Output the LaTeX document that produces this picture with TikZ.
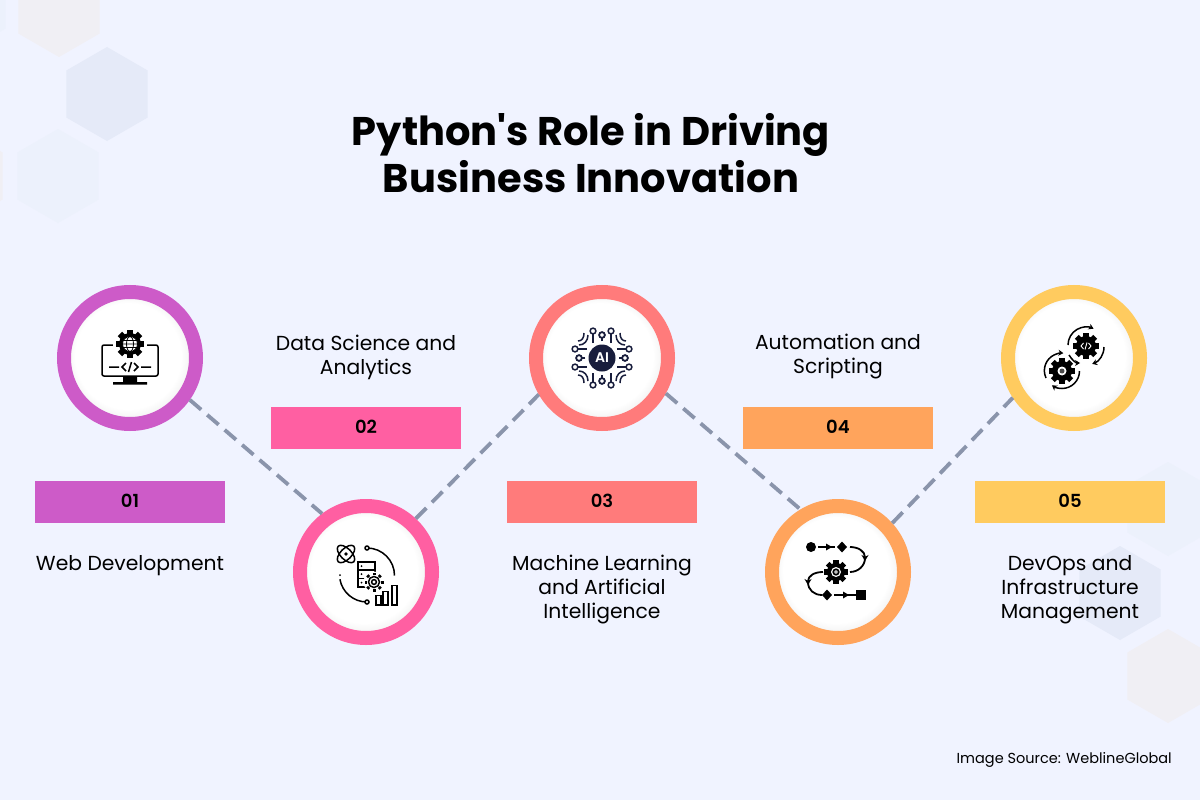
\documentclass[tikz,border=0pt]{standalone}
\usepackage{fontspec}
\setmainfont{Poppins}
\newfontfamily\semibold{Poppins SemiBold}
\newfontfamily\headfont{Poppins Bold}
\usetikzlibrary{shapes.geometric, arrows.meta, positioning}
\definecolor{pagebg}{RGB}{240,243,255}
\definecolor{hexblue}{RGB}{229,234,248}
\definecolor{hexpale}{RGB}{236,241,252}
\definecolor{hexwarm}{RGB}{240,239,244}
\definecolor{linkgray}{RGB}{138,148,171}
\definecolor{webpurple}{RGB}{205,91,200}
\definecolor{datapink}{RGB}{255,95,162}
\definecolor{mlcoral}{RGB}{255,123,123}
\definecolor{autoorange}{RGB}{255,164,92}
\definecolor{opsyellow}{RGB}{255,203,95}
\definecolor{ainavy}{RGB}{24,29,60}
\pgfdeclareradialshading{ballwhite}{\pgfpoint{-2.2bp}{2.2bp}}{rgb(0bp)=(1,1,1); rgb(20bp)=(1,1,1); rgb(23bp)=(.96,.96,.96); rgb(25.5bp)=(.74,.74,.74); rgb(30bp)=(.6,.6,.6)}
% gear: x, y, radius
\newcommand{\gearat}[3]{
  \fill (#1,#2) circle (#3);
  \foreach \a in {0,45,...,315}
    \fill[shift={(#1,#2)}, rotate=\a] (-0.28*#3,0) rectangle (0.28*#3,1.3*#3);
}
\newcommand{\webicon}{
  \draw[iconline, rounded corners=2pt] (-28,-13) rectangle (28,18);
  \fill[white] (0,-14) circle (17);
  \gearat{0}{-14}{11}
  \draw[fill=white, line width=.8pt] (0,-14) circle (7.5);
  \draw[line width=.8pt] (-7.5,-14) -- (7.5,-14) (-6.5,-17.5) -- (6.5,-17.5) (-6.5,-10.5) -- (6.5,-10.5) (0,-14) ellipse (3.5 and 7.5);
  \draw[iconline] (-21,9) -- (-11,9) (11,9) -- (21,9) (-4,5) -- (-8,9) -- (-4,13) (4,5) -- (8,9) -- (4,13) (-1.5,14) -- (1.5,4);
  \fill (-7,18) rectangle (7,24) (-17,24) rectangle (17,26.5);
}
\newcommand{\dataicon}{
  \draw[iconline] (-20,-18) ellipse [x radius=11pt, y radius=5.5pt, rotate=45];
  \draw[iconline] (-20,-18) ellipse [x radius=11pt, y radius=5.5pt, rotate=-45];
  \fill (-20,-18) circle (1.8);
  \draw[iconline] (1,-24) arc[start angle=90, end angle=0, radius=27.5pt];
  \draw[iconline] (1,30) arc[start angle=270, end angle=190, radius=27.5pt];
  \draw[iconline, fill=white] (1,-24) circle (2) (1,30) circle (2);
  \fill (-26,3) circle (1);
  \draw[iconline, fill=white] (-8,-10) rectangle (9,15);
  \draw[iconline] (-8,-2) -- (9,-2) (-8,6.5) -- (9,6.5);
  \fill (-4.5,-6) circle (1) (-4.5,2) circle (1) (-4.5,10.5) circle (1);
  \fill[white] (8,10) circle (10.5);
  \foreach \a in {0,45,...,315}
    \draw[line width=3pt, shift={(8,10)}, rotate=\a] (0,7) -- (0,9.5);
  \fill[white] (8,10) circle (6);
  \draw[iconline] (8,10) circle (5.5) (8,10) circle (2.4);
  \draw[iconline] (10,23.5) rectangle (15,33) (17,19.5) rectangle (22,33) (26,13.5) rectangle (31,33);
}
\newcommand{\aiicon}{
  \fill[ainavy] (0,0) circle (13.5);
  \node[font=\semibold\fontsize{14}{14}\selectfont, white] (ailabel) at (0,0) {AI};
  \foreach \sx/\sy in {1/1,-1/1,1/-1,-1/-1} {
    \begin{scope}[xscale=\sx, yscale=\sy, ainavy, line width=1.5pt]
      \draw (-9,-15) -- (-9,-24.5) (-15,-9) -- (-24.5,-9) (0,-17) -- (0,-20.5) (-17,0) -- (-20.5,0);
      \draw (-9,-27) circle (2.9) (-27,-9) circle (2.9) (0,-23) circle (2.9) (-23,0) circle (2.9);
      \draw (-23,-13) .. controls (-18,-13) and (-14,-17) .. (-14,-23);
      \draw (-24,-17) .. controls (-20,-17) and (-18,-20) .. (-18,-25);
    \end{scope}
  }
}
\newcommand{\autoicon}{
  \fill (-27,-25) circle (5);
  \fill (4,-30.5) -- (9,-25) -- (4,-19.5) -- (-1,-25) -- cycle;
  \draw[iconthick] (-20,-25) -- (-3,-25);
  \fill (-12,-28.5) -- (-6,-25) -- (-12,-21.5) -- cycle;
  \draw[iconthick, -{Stealth[length=6pt,width=7pt]}] (12,-25) .. controls (20,-25) and (27,-21) .. (27,-11);
  \draw[iconthick] (27,-14) .. controls (27,-6) and (20,0) .. (12,0);
  \gearat{-2}{0}{9}
  \fill[white] (-2,0) circle (5);
  \draw[line width=1.6pt, fill=gray!50] (-2,0) circle (2.8);
  \draw[iconthick, -{Stealth[length=6pt,width=7pt]}] (-15,0) .. controls (-24,0) and (-30,4) .. (-30,13);
  \draw[iconthick] (-30,10) .. controls (-30,18) and (-24,23) .. (-16,23);
  \fill (-11,17.5) -- (-6,23) -- (-11,28.5) -- (-16,23) -- cycle;
  \draw[iconthick] (-4,23) -- (18,23);
  \fill (5,19.5) -- (11,23) -- (5,26.5) -- cycle;
  \fill (18,18) rectangle (28,28);
}
\newcommand{\opsicon}{
  \gearat{12}{-12}{10}
  \draw[white, line width=.9pt] (9.5,-15) -- (7,-12) -- (9.5,-9) (14.5,-15) -- (17,-12) -- (14.5,-9) (11,-8.5) -- (13,-15.5);
  \draw[iconline, -{Stealth[length=5pt,width=6pt]}] (-6,-13) arc[start angle=180, end angle=65, radius=18pt];
  \draw[iconline, -{Stealth[length=5pt,width=6pt]}] (30,-11) arc[start angle=0, end angle=-70, radius=18pt];
  \draw[iconline, -{Stealth[length=5pt,width=6pt]}] (-5,-3) .. controls (-2,2) and (2,5) .. (6,5);
  \gearat{-12}{13}{10}
  \fill[white] (-12,13) circle (4.5);
  \fill[gray!60!black] (-12,13) circle (2.5);
  \draw[iconline, -{Stealth[length=5pt,width=6pt]}] (-28,20) arc[start angle=205, end angle=85, radius=17.5pt];
  \draw[iconline, -{Stealth[length=5pt,width=6pt]}] (5.5,13) arc[start angle=0, end angle=-125, radius=17.5pt];
}
\begin{document}
\begin{tikzpicture}[
        x=1pt, y=-1pt,
        every node/.style={inner sep=0pt},
        hexcell/.style={regular polygon, regular polygon sides=6, shape border rotate=30, minimum size=94pt},
        ring/.style={circle, draw=#1, line width=14pt, minimum size=132pt, shading=ballwhite},
        bar/.style={rectangle, fill=#1, minimum width=190pt, minimum height=42.5pt, font=\semibold\fontsize{18}{18}\selectfont},
        caption/.style={align=center, font=\fontsize{20.3}{24}\selectfont},
        link/.style={draw=linkgray, line width=3.8pt, dash pattern=on 15pt off 8pt},
        iconline/.style={line width=1.5pt},
        iconthick/.style={line width=1.8pt}
    ]
        \path[use as bounding box, fill=pagebg] (0,0) rectangle (1200,800);

        % hexagons in the corners
        \node[hexcell, fill=hexpale] (hexa) at (-35,5) {};
        \node[hexcell, fill=hexwarm] (hexb) at (59,10) {};
        \node[hexcell, fill=hexblue] (hexc) at (107,94) {};
        \node[hexcell, fill=hexpale] (hexd) at (58,176) {};
        \node[hexcell, fill=hexwarm] (hexe) at (-38,176) {};
        \node[hexcell, fill=hexpale] (hexf) at (1168,509) {};
        \node[hexcell, fill=hexblue] (hexg) at (1120,593) {};
        \node[hexcell, fill=hexwarm] (hexh) at (1168,676) {};

        \node[font=\headfont\fontsize{40}{47}\selectfont, align=center] (heading) at (591,153) {Python's Role in Driving\\Business Innovation};

        \node[ring=webpurple] (webdev) at (130,358) {};
        \node[ring=datapink] (datasci) at (366,572) {};
        \node[ring=mlcoral] (mlai) at (602,358) {};
        \node[ring=autoorange] (autosc) at (838,572) {};
        \node[ring=opsyellow] (devops) at (1074,358) {};

        \draw[link] (webdev.-35) -- (datasci.127);
        \draw[link] (datasci.47) -- (mlai.210);
        \draw[link] (mlai.-29) -- (autosc.121);
        \draw[link] (autosc.42) -- (devops.213);

        \begin{scope}[shift={(webdev.center)}] \webicon \end{scope}
        \begin{scope}[shift={(datasci.center)}] \dataicon \end{scope}
        \begin{scope}[shift={(mlai.center)}] \aiicon \end{scope}
        \begin{scope}[shift={(autosc.center)}] \autoicon \end{scope}
        \begin{scope}[shift={(devops.center)}] \opsicon \end{scope}

        \node[bar=webpurple] (barone) at (130,502) {\raisebox{2pt}{01}};
        \node[bar=datapink] (bartwo) at (366,428) {\raisebox{2pt}{02}};
        \node[bar=mlcoral] (barthree) at (602,502) {\raisebox{2pt}{03}};
        \node[bar=autoorange] (barfour) at (838,428) {\raisebox{2pt}{04}};
        \node[bar=opsyellow] (barfive) at (1070,502) {\raisebox{2pt}{05}};

        \node[caption, below=32pt of barone] (capone) {Web Development};
        \node[caption, above=27pt of bartwo] (captwo) {Data Science and\\Analytics};
        \node[caption, below=31.5pt of barthree] (capthree) {Machine Learning\\and Artificial\\Intelligence};
        \node[caption, above=27pt of barfour] (capfour) {Automation and\\Scripting};
        \node[caption, below=31.5pt of barfive] (capfive) {DevOps and\\Infrastructure\\Management};

        \node[font=\fontsize{14.5}{16}\selectfont, anchor=east] (source) at (1172,760) {Image Source: WeblineGlobal};
    \end{tikzpicture}
\end{document}
